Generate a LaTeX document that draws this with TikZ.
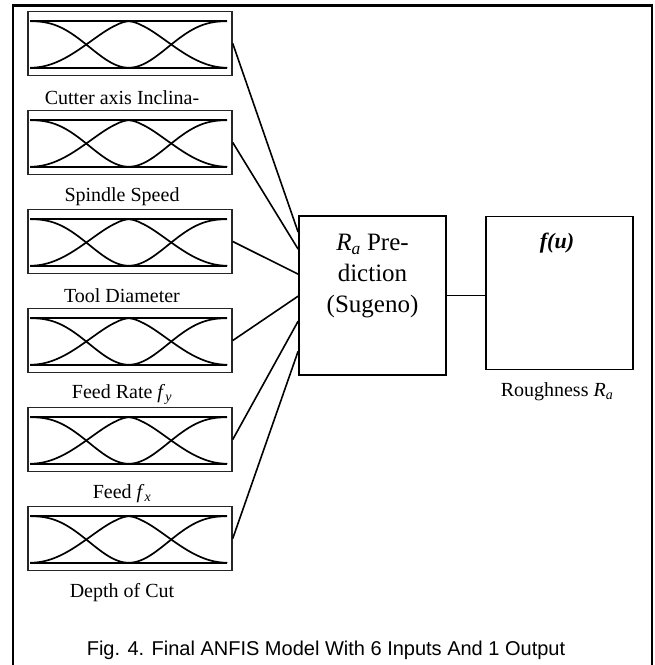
\documentclass[tikz,border=0pt]{standalone}
\usepackage{fontspec}
\setmainfont{Liberation Serif}
\newfontfamily\capfont{Liberation Sans}
\begin{document}
\begin{tikzpicture}[x=1pt,y=-1pt,
  mfbox/.style={draw=black!85, line width=1.5pt, minimum width=204pt,
    minimum height=64pt, inner sep=0pt},
  inlabel/.style={font=\fontsize{20}{24}\selectfont, inner sep=0pt},
  link/.style={line width=1.6pt},
  mfline/.style={line width=2pt},
  mfcurve/.style={line width=1.7pt},
  bigbox/.style={draw, line width=1.7pt, inner sep=0pt}
]
\useasboundingbox (0,0) rectangle (655,665);

% outer frame, open at the bottom
\draw[line width=2.6pt] (13,666) -- (13,5.5) -- (652,5.5) -- (652,666);

% input membership-function boxes
\foreach \i/\cy/\lab in {
  1/43.5/{Cutter axis Inclina-},
  2/142.5/{Spindle Speed},
  3/241.5/{Tool Diameter},
  4/340.5/{Feed Rate \textit{f}\textsubscript{\textit{y}}},
  5/439.5/{Feed \textit{f}\textsubscript{\textit{x}}},
  6/538.5/{Depth of Cut}}{
  \node[mfbox] (in\i) at (130,\cy) {};
  \node[inlabel] (lab\i) at (122,\cy+54) {\lab};
  \begin{scope}[shift={(in\i.north west)}]
    \draw[mfline] (3,10.5) -- (200,10.5);
    \draw[mfline] (3,57) -- (200,57);
    % low, medium and high membership functions
    \draw[mfcurve] plot[domain=0.01:98.5, samples=50, smooth]
      ({3+\x},{57-46.5*(1+cos(180*(\x/98.5)^1.227))/2});
    \draw[mfcurve] plot[domain=-98.5:98.5, samples=81, smooth]
      ({101.5+\x},{57-46.5*(1+cos(180*((abs(\x)+0.01)/98.5)^0.825))/2});
    \draw[mfcurve] plot[domain=0.01:98.5, samples=50, smooth]
      ({200-\x},{57-46.5*(1+cos(180*(\x/98.5)^1.227))/2});
  \end{scope}
}

% Sugeno inference block
\node[bigbox, minimum width=147pt, minimum height=159pt] (pred) at (372.5,295.5) {};
\node[font=\fontsize{25}{31}\selectfont, align=center, inner sep=0pt] (predtxt) at (372.5,276)
  {\textit{R}\textsubscript{\textit{a}} Pre-\\diction\\(Sugeno)};

% output block
\node[bigbox, minimum width=147pt, minimum height=153pt] (out) at (559.5,293) {};
\node[font=\fontsize{22}{26}\selectfont\bfseries\itshape, inner sep=0pt] (fu) at (557,243) {f(u)};
\node[inlabel] (outlab) at (557,392) {Roughness \textit{R}\textsubscript{\textit{a}}};

% entry points on the inference block
\foreach \i/\dy in {1/17,2/34,3/59,4/81,5/106,6/136}{
  \coordinate (p\i) at ([yshift=-\dy pt]pred.north west);
}
\foreach \i in {1,...,6}{
  \draw[link] (in\i.east) -- (p\i);
}
\draw[link] (pred.east) -- (out.west |- pred.east);

% caption
\node[font=\capfont\fontsize{20}{24}\selectfont, inner sep=0pt] (cap) at (326,650)
  {Fig. 4. Final ANFIS Model With 6 Inputs And 1 Output};
\end{tikzpicture}
\end{document}
